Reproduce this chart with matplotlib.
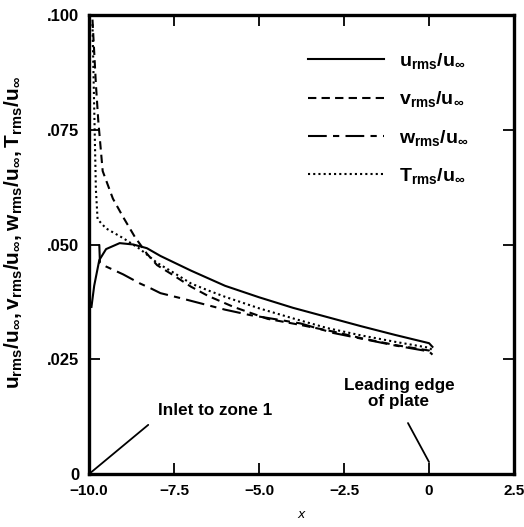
"""RMS fluctuation profiles upstream of the plate leading edge."""

import matplotlib
matplotlib.use("Agg")
import matplotlib.pyplot as plt
from matplotlib.lines import Line2D

plt.rcParams["font.family"] = ["Liberation Sans", "DejaVu Sans"]

# --- data ---
u_x = [-9.93, -9.85, -9.7, -9.5, -9.1, -8.7, -8.3, -7.9, -7.0, -6.0, -5.0,
       -4.0, -3.0, -2.0, -1.0, 0.0, 0.1]
u_y = [0.0364, 0.041, 0.0466, 0.049, 0.0503, 0.0500, 0.0492, 0.0475, 0.0443,
       0.0410, 0.0385, 0.0362, 0.0342, 0.0322, 0.0303, 0.0285, 0.0277]

v_x = [-9.9, -9.85, -9.8, -9.73, -9.6, -9.3, -9.0, -8.65, -8.3, -8.0, -7.5,
       -7.0, -6.5, -5.75, -4.75, -3.8, -2.8, -2.0, -1.0, 0.0, 0.1]
v_y = [0.099, 0.092, 0.085, 0.077, 0.066, 0.060, 0.056, 0.0516, 0.048, 0.0455,
       0.0432, 0.0408, 0.0388, 0.0364, 0.0338, 0.0325, 0.0310, 0.0296, 0.0281,
       0.0269, 0.0264]

w_x = [-9.7, -9.68, -9.5, -9.0, -8.5, -8.2, -7.9, -7.3, -6.73, -6.0, -5.25,
       -4.5, -3.78, -2.8, -2.0, -1.0, 0.0, 0.1]
w_y = [0.050, 0.046, 0.0452, 0.0435, 0.0415, 0.0405, 0.0394, 0.0383, 0.0372,
       0.0358, 0.0346, 0.0337, 0.0328, 0.0307, 0.0295, 0.0280, 0.0267, 0.0260]

t_x = [-9.9, -9.85, -9.8, -9.75, -9.5, -9.0, -8.5, -8.0, -7.5, -7.0, -6.5,
       -6.0, -5.0, -4.0, -3.0, -2.0, -1.0, 0.0, 0.1]
t_y = [0.098, 0.080, 0.062, 0.0555, 0.0535, 0.0514, 0.049, 0.046, 0.0438,
       0.0415, 0.0400, 0.0386, 0.0361, 0.0339, 0.0318, 0.0302, 0.0288, 0.0275,
       0.0270]

x_ticks = [-10.0, -7.5, -5.0, -2.5, 0.0, 2.5]
x_ticklabels = ["\u221210.0", "\u22127.5", "\u22125.0", "\u22122.5", "0", "2.5"]
y_ticks = [0.0, 0.025, 0.05, 0.075, 0.1]
y_ticklabels = ["0", ".025", ".050", ".075", ".100"]

fig = plt.figure(figsize=(5.24, 5.27), dpi=100)
ax = fig.add_axes([0.170, 0.1006, 0.811, 0.8709])

lw = 1.5
ax.plot(u_x, u_y, color="black", lw=lw, ls="-")
ax.plot(v_x, v_y, color="black", lw=lw, ls=(0, (4, 2.5)))
ax.plot(w_x, w_y, color="black", lw=lw, ls=(0, (9, 3, 3, 3)))
ax.plot(t_x, t_y, color="black", lw=lw, ls=(0, (1, 1.5)))

ax.set_xlim(-10.0, 2.5)
ax.set_ylim(0.0, 0.1)
ax.set_xticks(x_ticks)
ax.set_xticklabels(x_ticklabels, fontsize=11, fontweight="bold")
ax.set_yticks(y_ticks)
ax.set_yticklabels(y_ticklabels, fontsize=12, fontweight="bold")
ax.tick_params(direction="in", length=8, width=1.3, top=True, right=True,
               pad=7)
for s in ax.spines.values():
    s.set_linewidth(2.4)

ax.set_xlabel("$x$", fontsize=9, labelpad=8)
ax.set_ylabel(r"$\mathregular{u_{rms}/u_\infty, v_{rms}/u_\infty, "
              r"w_{rms}/u_\infty, T_{rms}/u_\infty}$",
              fontsize=15, fontweight="bold")
ax.yaxis.set_label_coords(-0.15, 0.527)

handles = [
    Line2D([], [], color="black", lw=lw, ls="-"),
    Line2D([], [], color="black", lw=lw, ls=(0, (4, 2.5))),
    Line2D([], [], color="black", lw=lw, ls=(0, (9, 3, 3, 3))),
    Line2D([], [], color="black", lw=lw, ls=(0, (1, 1.5))),
]
labels = [r"$\mathregular{u_{rms}/u_\infty}$", r"$\mathregular{v_{rms}/u_\infty}$",
          r"$\mathregular{w_{rms}/u_\infty}$", r"$\mathregular{T_{rms}/u_\infty}$"]
ax.legend(handles, labels, loc="upper left", bbox_to_anchor=(0.474, 0.96),
          frameon=False, prop=dict(size=14, weight="bold"),
          handlelength=3.9, handletextpad=0.8, labelspacing=0.95)

# annotations
ax.text(-6.28, 0.0139, "Inlet to zone 1", ha="center", va="center",
        fontsize=12.3, fontweight="bold")
ax.annotate("", xy=(-10.0, 0.0), xytext=(-8.26, 0.0107),
            arrowprops=dict(arrowstyle="-", color="black", lw=1.3,
                            shrinkA=0, shrinkB=0))
ax.text(-0.885, 0.0175, "Leading edge\nof plate", ha="center", va="center",
        fontsize=12.3, fontweight="bold", linespacing=1.05)
ax.annotate("", xy=(0.0, 0.0026), xytext=(-0.62, 0.0111),
            arrowprops=dict(arrowstyle="-", color="black", lw=1.3,
                            shrinkA=0, shrinkB=0))

fig.savefig("out.png", dpi=100)
plt.close(fig)
